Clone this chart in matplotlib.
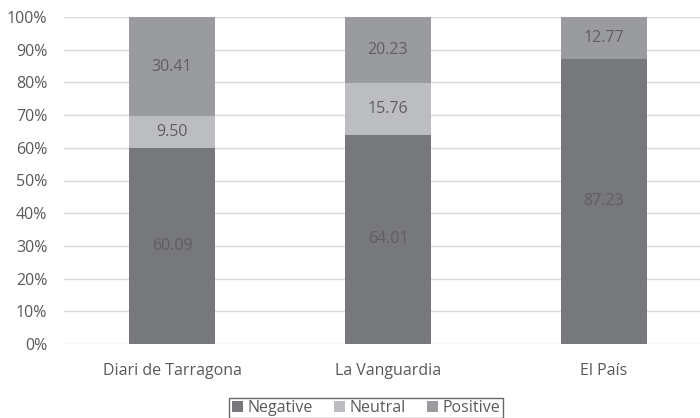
import matplotlib
matplotlib.use("Agg")
import matplotlib.pyplot as plt
from matplotlib.ticker import FuncFormatter

plt.rcParams['font.family'] = ['Open Sans', 'DejaVu Sans']

categories = ["Diari de Tarragona", "La Vanguardia", "El País"]
series_names = ["Negative", "Neutral", "Positive"]
negative = [60.09, 64.01, 87.23]
neutral = [9.50, 15.76, 0.0]
positive = [30.41, 20.23, 12.77]
colors = ["#77787b", "#bcbdc0", "#9a9b9e"]

fig = plt.figure(figsize=(7.0, 4.18), dpi=100)
ax = fig.add_axes([64/700, 74/418, 636/700, 327/418])

x = list(range(len(categories)))
width = 0.395
bottom = [0.0] * len(categories)
for name, vals, col in zip(series_names, [negative, neutral, positive], colors):
    ax.bar(x, vals, width, bottom=bottom, color=col, label=name, zorder=3)
    for xi, v, b in zip(x, vals, bottom):
        if v > 0:
            ax.text(xi, b + v / 2, f"{v:.2f}", ha='center', va='center',
                    fontsize=11.5, color='#5f5f62', zorder=4)
    bottom = [b + v for b, v in zip(bottom, vals)]

ax.set_xlim(-0.5, -0.5 + 636/216)
ax.set_ylim(0, 100)
ax.set_yticks(range(0, 101, 10))
ax.yaxis.set_major_formatter(FuncFormatter(lambda v, p: f"{int(v)}%"))
ax.set_xticks(x)
ax.set_xticklabels(categories)
ax.tick_params(axis='both', length=0, labelsize=11.5, colors='#595959')
ax.tick_params(axis='x', pad=14)
ax.tick_params(axis='y', pad=12)
ax.grid(axis='y', color='#d9d9d9', linewidth=1, zorder=0)
for s in ax.spines.values():
    s.set_visible(False)

leg = fig.legend(loc='center', bbox_to_anchor=(366/700, 1 - 408/418), ncol=3,
                 frameon=True, fontsize=11.5, handlelength=0.7, handleheight=0.7,
                 handletextpad=0.3, columnspacing=1.3, borderpad=0.15,
                 fancybox=False, labelcolor='#595959')
leg.get_frame().set_edgecolor('#404040')
leg.get_frame().set_linewidth(1.0)

fig.savefig("out.png", dpi=100)
